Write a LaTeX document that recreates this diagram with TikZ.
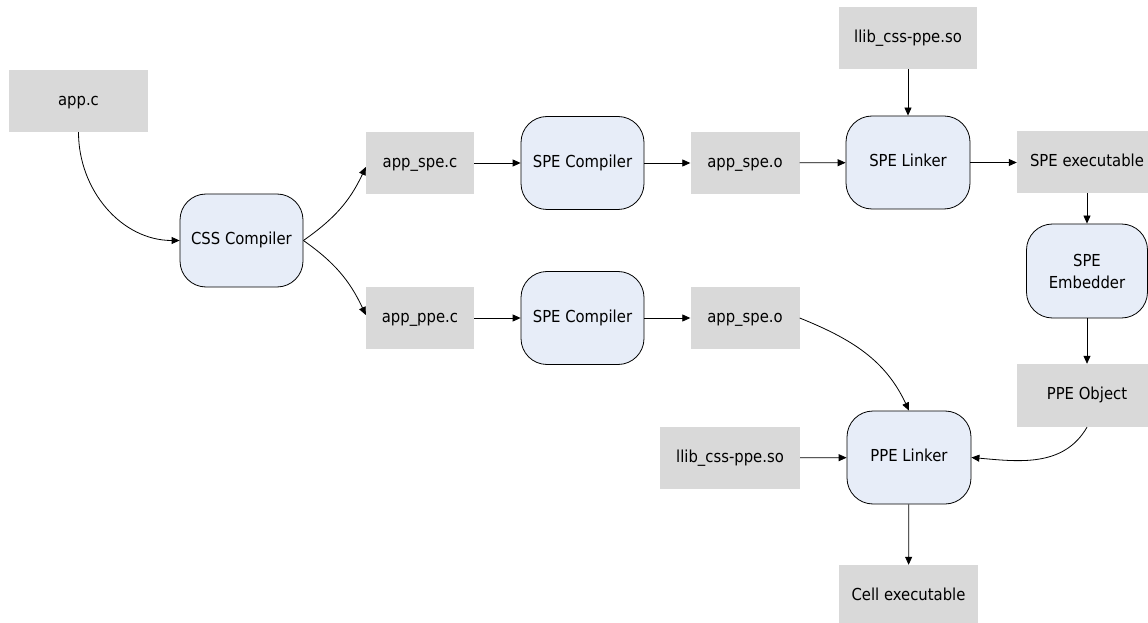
\documentclass[tikz,border=0pt]{standalone}
\usepackage{fontspec}
\setmainfont{DejaVu Sans Condensed}
\usetikzlibrary{arrows.meta}
\definecolor{boxgray}{HTML}{D9D9D9}
\definecolor{procblue}{HTML}{E7EDF8}
\begin{document}
\begin{tikzpicture}[x=1bp,y=-1bp,
  file/.style={fill=boxgray, draw=none, inner sep=0pt, minimum height=62bp, text height=12bp, text depth=3.5bp, font=\fontsize{16.5bp}{19bp}\selectfont},
  proc/.style={fill=procblue, draw=black, line width=0.8bp, rounded corners=26bp, inner sep=0pt, minimum width=123bp, minimum height=93bp, align=center, font=\fontsize{16.5bp}{22bp}\selectfont},
  conn/.style={line width=0.8bp, -{Triangle[length=8bp,width=7bp]}}
]
\useasboundingbox (0,0) rectangle (1148,623);
% files
\node[file, minimum width=139bp] (appc) at (78.5,101) {app.c};
\node[file, minimum width=108bp] (spec) at (420,163) {app\_spe.c};
\node[file, minimum width=108bp] (ppec) at (420,318) {app\_ppe.c};
\node[file, minimum width=109bp] (speo1) at (745,163) {app\_spe.o};
\node[file, minimum width=109bp] (speo2) at (745,318) {app\_spe.o};
\node[file, minimum width=138bp] (lib1) at (908,38) {llib\_css-ppe.so};
\node[file, minimum width=140bp] (spex) at (1087,162) {SPE executable};
\node[file, minimum width=140bp, minimum height=63bp] (pobj) at (1087,395.5) {PPE Object};
\node[file, minimum width=140bp] (lib2) at (730,458) {llib\_css-ppe.so};
\node[file, minimum width=139bp] (cell) at (908.5,596) {Cell executable};
% processes
\node[proc, text height=12bp, text depth=3.5bp] (css) at (241.5,240.5) {CSS Compiler};
\node[proc, text height=12bp, text depth=3.5bp] (spc1) at (582.5,163) {SPE Compiler};
\node[proc, text height=12bp, text depth=3.5bp] (spc2) at (582.5,318) {SPE Compiler};
\node[proc, minimum width=124bp, text height=12bp, text depth=3.5bp] (spl) at (908,162.5) {SPE Linker};
\node[proc, minimum width=121bp, minimum height=94bp] (emb) at (1087,271) {SPE\\Embedder};
\node[proc, minimum width=124bp, text height=12bp, text depth=3.5bp] (ppl) at (909,457.5) {PPE Linker};
% connectors
\draw[conn] (appc.south) to[out=-90,in=180] (css.west);
\draw[conn] (css.east) to[out=35,in=-115] ([yshift=-4bp]spec.west);
\draw[conn] (css.east) to[out=-35,in=115] ([yshift=3bp]ppec.west);
\draw[conn] (spec) -- (spc1);
\draw[conn] (spc1) -- (speo1);
\draw[conn] (speo1) -- (spl);
\draw[conn] (ppec) -- (spc2);
\draw[conn] (spc2) -- (speo2);
\draw[conn] (lib1) -- (spl);
\draw[conn] (spl) -- (spex.west |- spl);
\draw[conn] (spex) -- (emb);
\draw[conn] (emb) -- (pobj);
\draw[conn] (speo2.east) to[out=-22,in=115] (ppl.north);
\draw[conn] (pobj.south) to[out=-120,in=-5] (ppl.east);
\draw[conn] (lib2) -- (ppl);
\draw[conn] (ppl) -- (cell);
\end{tikzpicture}
\end{document}
